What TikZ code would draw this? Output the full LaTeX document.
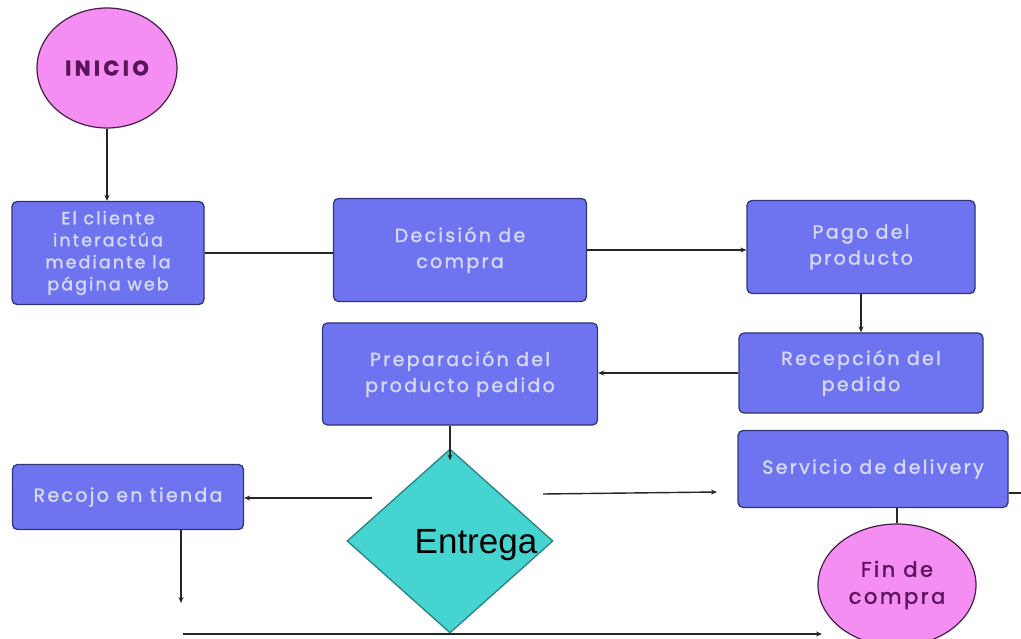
\documentclass[tikz,border=0pt]{standalone}
\usepackage{fontspec}
\setmainfont{Poppins}[LetterSpace=12,FakeBold=1.5]
\newfontfamily\arialf{Liberation Sans}
\usetikzlibrary{shapes.geometric,arrows.meta}
\definecolor{boxfill}{RGB}{110,116,240}
\definecolor{boxline}{RGB}{50,52,120}
\definecolor{boxtext}{RGB}{214,216,250}
\definecolor{pinkfill}{RGB}{244,142,242}
\definecolor{pinkline}{RGB}{70,30,70}
\definecolor{pinktext}{RGB}{90,20,90}
\definecolor{turq}{RGB}{70,212,208}
\definecolor{turqline}{RGB}{40,130,130}
\begin{document}
\begin{tikzpicture}[x=1pt,y=-1pt,
  procbox/.style={draw=boxline, line width=1.3pt, fill=boxfill, rounded corners=5pt,
    text=boxtext, align=center, inner sep=0pt, font=\fontsize{19}{26}\selectfont},
  oval/.style={ellipse, draw=pinkline, line width=1.2pt, fill=pinkfill, text=pinktext,
    align=center, inner sep=0pt, font=\fontsize{21}{27}\selectfont},
  conn/.style={line width=1.4pt, draw=black!85},
  arr/.style={conn, -{Stealth[length=6pt,width=5pt]}}]
\fill[white] (0,0) rectangle (1021,639);
\useasboundingbox (0,0) rectangle (1021,639);
% nodes
\node[oval, minimum width=140pt, minimum height=120pt] (ini) at (107,68) {\bfseries\addfontfeature{LetterSpace=16}INICIO};
\node[procbox, minimum width=192pt, minimum height=103pt, font=\fontsize{17.5}{22}\selectfont] (b1) at (108,253) {El cliente\\interactúa\\mediante la\\página web};
\node[procbox, minimum width=253pt, minimum height=103pt] (b2) at (460,250) {Decisión de\\compra};
\node[procbox, minimum width=228pt, minimum height=93pt] (b3) at (861,247) {Pago del\\producto};
\node[procbox, minimum width=244pt, minimum height=80pt] (b4) at (861,373) {Recepción del\\pedido};
\node[procbox, minimum width=275pt, minimum height=102pt] (b5) at (460,374) {Preparación del\\producto pedido};
\node[diamond, draw=turqline, line width=1.3pt, fill=turq, minimum width=206pt, minimum height=184pt, inner sep=0pt] (ent) at (450,541) {};
\node[font=\arialf\fontsize{35}{38}\selectfont, text=black, inner sep=0pt] (entl) at (476,545) {Entrega};
\node[procbox, minimum width=231pt, minimum height=65pt] (b6) at (128,497) {Recojo en tienda};
\node[procbox, minimum width=270pt, minimum height=77pt] (b7) at (873,469) {Servicio de delivery};
\node[oval, minimum width=158pt, minimum height=122pt] (fin) at (897,585) {Fin de\\compra};
% free ends
\coordinate (dL) at (372,498);
\coordinate (dR) at (543,494);
\coordinate (dRend) at (717,492);
\coordinate (rdown) at (181,603);
\coordinate (botA) at (183,634);
\coordinate (botB) at (822,634);
\coordinate (redge) at (1021,493);
% connectors
\draw[arr] (ini.south) -- (ini.south |- b1.north);
\draw[conn] (b1.east) -- (b2.west |- b1.east);
\draw[arr] (b2.east) -- (b3.west |- b2.east);
\draw[arr] (b3.south) -- (b3.south |- b4.north);
\draw[arr] (b4.west) -- (b5.east |- b4.west);
\draw[arr] (ent.north |- b5.south) -- ([yshift=-12pt]ent.north);
\draw[arr] (dL) -- (b6.east |- dL);
\draw[arr] (dR) -- (dRend);
\draw[arr] (b6.south -| rdown) -- (rdown);
\draw[arr] (botA) -- (botB);
\draw[conn] (b7.south -| fin.north) -- (fin.north);
\draw[conn] (b7.east |- redge) -- (redge);
\end{tikzpicture}
\end{document}
